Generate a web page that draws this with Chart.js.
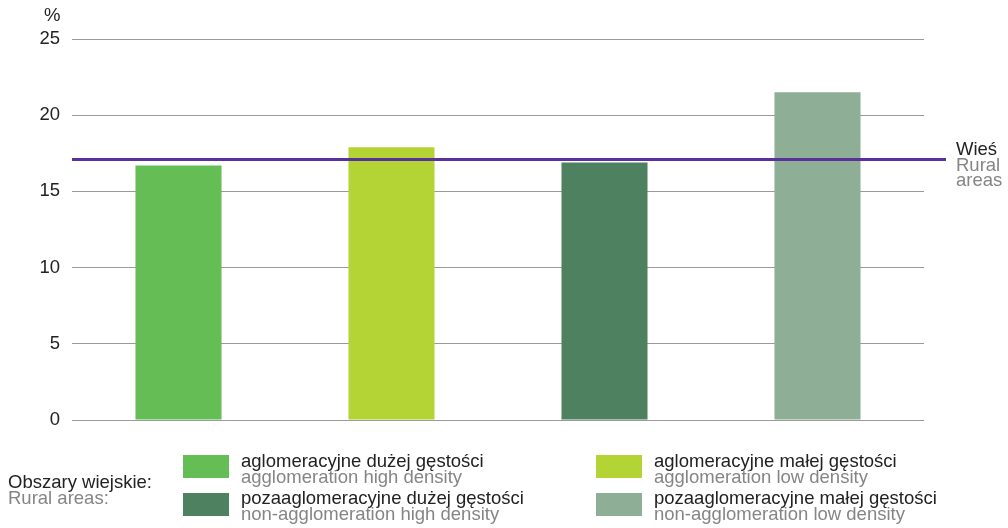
<!DOCTYPE html>
<html>
<head>
<meta charset="utf-8">
<script src="https://cdn.jsdelivr.net/npm/chart.js@4/dist/chart.umd.min.js"></script>
<style>
  html, body { margin: 0; padding: 0; background: #fff; }
  body { width: 1008px; height: 528px; position: relative; overflow: hidden;
    font-family: "Liberation Sans", Arial, sans-serif; }
  #wrap { position: absolute; left: 0; top: 0; width: 1008px; height: 528px; }
  .txt { position: absolute; font-size: 18.5px; line-height: 16px; white-space: nowrap; color: #222; }
  .txt .en { color: #858585; }
  .sw { position: absolute; width: 46px; height: 23px; }
</style>
</head>
<body>
<div id="wrap"><canvas id="chart" width="1008" height="528"></canvas></div>

<div class="txt" style="left:44px; top:7px;">%</div>

<div class="txt" style="left:8px; top:474px;">Obszary wiejskie:<br><span class="en">Rural areas:</span></div>

<div class="sw" id="sw0" style="left:183px; top:455px;"></div>
<div class="txt" style="left:241px; top:453px;" id="lg0"></div>
<div class="sw" id="sw2" style="left:183px; top:493px;"></div>
<div class="txt" style="left:241px; top:490px;" id="lg2"></div>
<div class="sw" id="sw1" style="left:596px; top:455px;"></div>
<div class="txt" style="left:654px; top:453px;" id="lg1"></div>
<div class="sw" id="sw3" style="left:596px; top:493px;"></div>
<div class="txt" style="left:654px; top:490px;" id="lg3"></div>

<script>
/* global Chart */

const categoriesPl = [
  'aglomeracyjne dużej gęstości',
  'aglomeracyjne małej gęstości',
  'pozaaglomeracyjne dużej gęstości',
  'pozaaglomeracyjne małej gęstości'
]
const categoriesEn = [
  'agglomeration high density',
  'agglomeration low density',
  'non-agglomeration high density',
  'non-agglomeration low density'
]
const shares = [16.7, 17.9, 16.9, 21.5]
const ruralAverage = 17.1
const ruralLabel = ['Wieś', 'Rural', 'areas']
const yTicks = [0, 5, 10, 15, 20, 25]

const barColors = ['#65bd55', '#b4d335', '#4e8160', '#8eaf96']
const lineColor = '#58329a'

// legenda pod wykresem
categoriesPl.forEach((name, i) => {
  document.getElementById('sw' + i).style.background = barColors[i]
  document.getElementById('lg' + i).innerHTML = `${name}<br><span class="en">${categoriesEn[i]}</span>`
})

const ruralLinePlugin = {
  id: 'ruralLine',
  afterDatasetsDraw (chart) {
    const { ctx, chartArea, scales } = chart
    const y = scales.y.getPixelForValue(ruralAverage)
    ctx.save()
    ctx.strokeStyle = lineColor
    ctx.lineWidth = 3
    ctx.beginPath()
    ctx.moveTo(chartArea.left, y)
    ctx.lineTo(chartArea.right + 22, y)
    ctx.stroke()

    ctx.font = '18.5px "Liberation Sans", Arial, sans-serif'
    ctx.textBaseline = 'alphabetic'
    ctx.textAlign = 'left'
    ruralLabel.forEach((t, i) => {
      ctx.fillStyle = i === 0 ? '#222' : '#858585'
      ctx.fillText(t, chartArea.right + 32, y - 4 + i * 15.5)
    })
    ctx.restore()
  }
}

const ctx = document.getElementById('chart').getContext('2d')
new Chart(ctx, {
  type: 'bar',
  data: {
    labels: categoriesPl,
    datasets: [{
      data: shares,
      backgroundColor: barColors,
      borderWidth: 0,
      categoryPercentage: 1,
      barPercentage: 0.404
    }]
  },
  options: {
    responsive: false,
    animation: false,
    maintainAspectRatio: false,
    layout: { padding: { top: 39, right: 84, bottom: 108, left: 0 } },
    plugins: {
      legend: { display: false },
      tooltip: { enabled: false }
    },
    scales: {
      x: { display: false },
      y: {
        min: 0,
        max: 25,
        afterBuildTicks (scale) {
          scale.ticks = yTicks.map((v) => ({ value: v }))
        },
        afterFit (scale) {
          scale.width = 72
        },
        border: { display: false },
        grid: { color: '#9a9a9a', lineWidth: 1, drawTicks: false },
        ticks: {
          padding: 12,
          color: '#222',
          font: { family: '"Liberation Sans", Arial, sans-serif', size: 18.5 }
        }
      }
    }
  },
  plugins: [ruralLinePlugin]
})
</script>
</body>
</html>
